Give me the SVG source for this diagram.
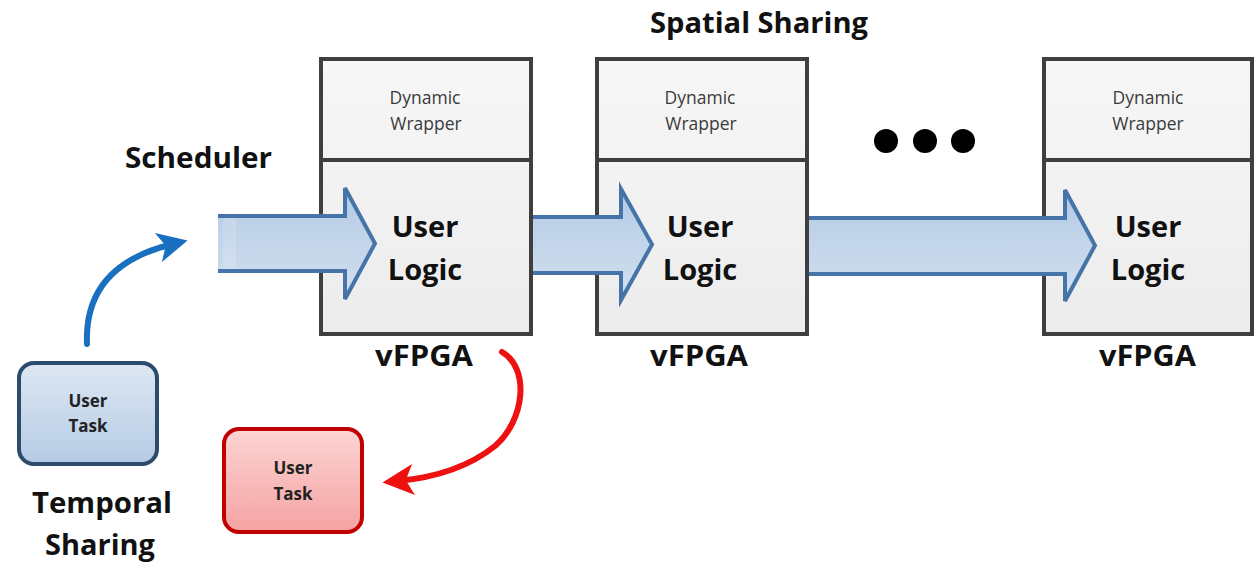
<svg xmlns="http://www.w3.org/2000/svg" width="1256" height="564" viewBox="0 0 1256 564">
  <defs>
    <linearGradient id="boxFill" x1="0" y1="0" x2="0" y2="1">
      <stop offset="0" stop-color="#f7f7f7"/>
      <stop offset="1" stop-color="#ececec"/>
    </linearGradient>
    <linearGradient id="flowFill" x1="0" y1="0" x2="0" y2="1">
      <stop offset="0" stop-color="#b3cae4"/>
      <stop offset="1" stop-color="#d3e0f0"/>
    </linearGradient>
    <linearGradient id="blueTask" x1="0" y1="0" x2="0" y2="1">
      <stop offset="0" stop-color="#dde7f3"/>
      <stop offset="1" stop-color="#b5cbe4"/>
    </linearGradient>
    <linearGradient id="redTask" x1="0" y1="0" x2="0" y2="1">
      <stop offset="0" stop-color="#fdd4d4"/>
      <stop offset="1" stop-color="#f5a3a3"/>
    </linearGradient>
    <marker id="headBlue" viewBox="0 0 10 10" refX="5" refY="5" markerWidth="5.2" markerHeight="5" orient="auto" markerUnits="strokeWidth">
      <path d="M0,0 L10,5 L0,10 L2.5,5 z" fill="#1a70c0"/>
    </marker>
    <marker id="headRed" viewBox="0 0 10 10" refX="5" refY="5" markerWidth="5.8" markerHeight="5.2" orient="auto" markerUnits="strokeWidth">
      <path d="M0,0 L10,5 L0,10 L2.5,5 z" fill="#ee1111"/>
    </marker>
  </defs>
  <style>
    .frame { fill: url(#boxFill); stroke: #3f3f3f; stroke-width: 4; }
    .divider { stroke: #3f3f3f; stroke-width: 4; }
    .small { font-family: "Open Sans", "Liberation Sans", sans-serif; font-size: 17.5px; fill: #3a3a3a; text-anchor: middle; }
    .logic { font-family: "Open Sans", "Liberation Sans", sans-serif; font-size: 29px; font-weight: bold; fill: #111; text-anchor: middle; }
    .label { font-family: "Open Sans", "Liberation Sans", sans-serif; font-size: 28px; font-weight: bold; fill: #111; text-anchor: middle; }
    .task { font-family: "Open Sans", "Liberation Sans", sans-serif; font-size: 17px; font-weight: bold; fill: #222; text-anchor: middle; }
    .flow { fill: url(#flowFill); stroke: none; }
    .flowEdge { fill: none; stroke: #4674a8; stroke-width: 4; stroke-linejoin: miter; }
    .curve { fill: none; stroke-width: 6; stroke-linecap: round; }
  </style>

  <!-- titles -->
  <text class="label" x="759" y="33" textLength="218" lengthAdjust="spacingAndGlyphs">Spatial Sharing</text>
  <text class="label" x="198.5" y="168" textLength="147" lengthAdjust="spacingAndGlyphs">Scheduler</text>
  <text class="label" x="102" y="513" textLength="140" lengthAdjust="spacingAndGlyphs">Temporal</text>
  <text class="label" x="100" y="555" textLength="110" lengthAdjust="spacingAndGlyphs">Sharing</text>

  <!-- vFPGA regions -->
  <g id="vfpga1">
    <rect class="frame" x="321" y="59" width="210" height="275"/>
    <line class="divider" x1="321" y1="160" x2="531" y2="160"/>
    <text class="small" x="425" y="104">Dynamic</text>
    <text class="small" x="426" y="130">Wrapper</text>
    <text class="label" x="424" y="366" textLength="98" lengthAdjust="spacingAndGlyphs">vFPGA</text>
  </g>
  <g id="vfpga2">
    <rect class="frame" x="597" y="59" width="210" height="275"/>
    <line class="divider" x1="597" y1="160" x2="807" y2="160"/>
    <text class="small" x="700" y="104">Dynamic</text>
    <text class="small" x="701" y="130">Wrapper</text>
    <text class="label" x="699" y="366" textLength="98" lengthAdjust="spacingAndGlyphs">vFPGA</text>
  </g>
  <g id="vfpga3">
    <rect class="frame" x="1044" y="59" width="208" height="275"/>
    <line class="divider" x1="1044" y1="160" x2="1252" y2="160"/>
    <text class="small" x="1148" y="104">Dynamic</text>
    <text class="small" x="1148" y="130">Wrapper</text>
    <text class="label" x="1147.5" y="366" textLength="97" lengthAdjust="spacingAndGlyphs">vFPGA</text>
  </g>

  <!-- continuation dots -->
  <g id="ellipsis" fill="#000">
    <circle cx="886" cy="141" r="12"/>
    <circle cx="925" cy="141" r="12"/>
    <circle cx="963" cy="141" r="12"/>
  </g>

  <!-- data-flow block arrows -->
  <g id="connectors">
    <g id="flow1">
      <path class="flow" d="M218,216 L345,216 L345,188 L375,243.5 L345,299 L345,271 L218,271 z"/>
      <rect x="223" y="218" width="13" height="51" fill="#ffffff" opacity="0.14"/>
      <path class="flowEdge" d="M218,216 L345,216 L345,188 L375,243.5 L345,299 L345,271 L218,271"/>
    </g>
    <g id="flow2">
      <path class="flow" d="M533,217 L621,217 L621,189 L652,244.5 L621,300 L621,273 L533,273 z"/>
      <path class="flowEdge" d="M533,217 L621,217 L621,189 L652,244.5 L621,300 L621,273 L533,273"/>
    </g>
    <g id="flow3">
      <path class="flow" d="M809,218 L1065,218 L1065,190 L1095,245.5 L1065,301 L1065,274 L809,274 z"/>
      <path class="flowEdge" d="M809,218 L1065,218 L1065,190 L1095,245.5 L1065,301 L1065,274 L809,274"/>
    </g>
    <path id="schedule" class="curve" stroke="#1a70c0" d="M87,344 C85,295 110,259 173,244" marker-end="url(#headBlue)"/>
    <path id="evict" class="curve" stroke="#ee1111" d="M502,352 C530,368 525,420 495,446 C465,470 430,478 398,481" marker-end="url(#headRed)"/>
  </g>

  <!-- user logic labels above arrows -->
  <text class="logic" x="425" y="237">User</text>
  <text class="logic" x="425" y="280">Logic</text>
  <text class="logic" x="700" y="237">User</text>
  <text class="logic" x="700" y="280">Logic</text>
  <text class="logic" x="1148" y="237">User</text>
  <text class="logic" x="1148" y="280">Logic</text>

  <!-- tasks -->
  <g id="task-running">
    <rect x="19" y="363" width="138" height="101" rx="15" ry="15" fill="url(#blueTask)" stroke="#2d4c6c" stroke-width="4"/>
    <text class="task" x="88" y="407">User</text>
    <text class="task" x="88" y="432">Task</text>
  </g>
  <g id="task-evicted">
    <rect x="224" y="429" width="138" height="103" rx="15" ry="15" fill="url(#redTask)" stroke="#c00000" stroke-width="4"/>
    <text class="task" x="293" y="474">User</text>
    <text class="task" x="293" y="500">Task</text>
  </g>
</svg>
